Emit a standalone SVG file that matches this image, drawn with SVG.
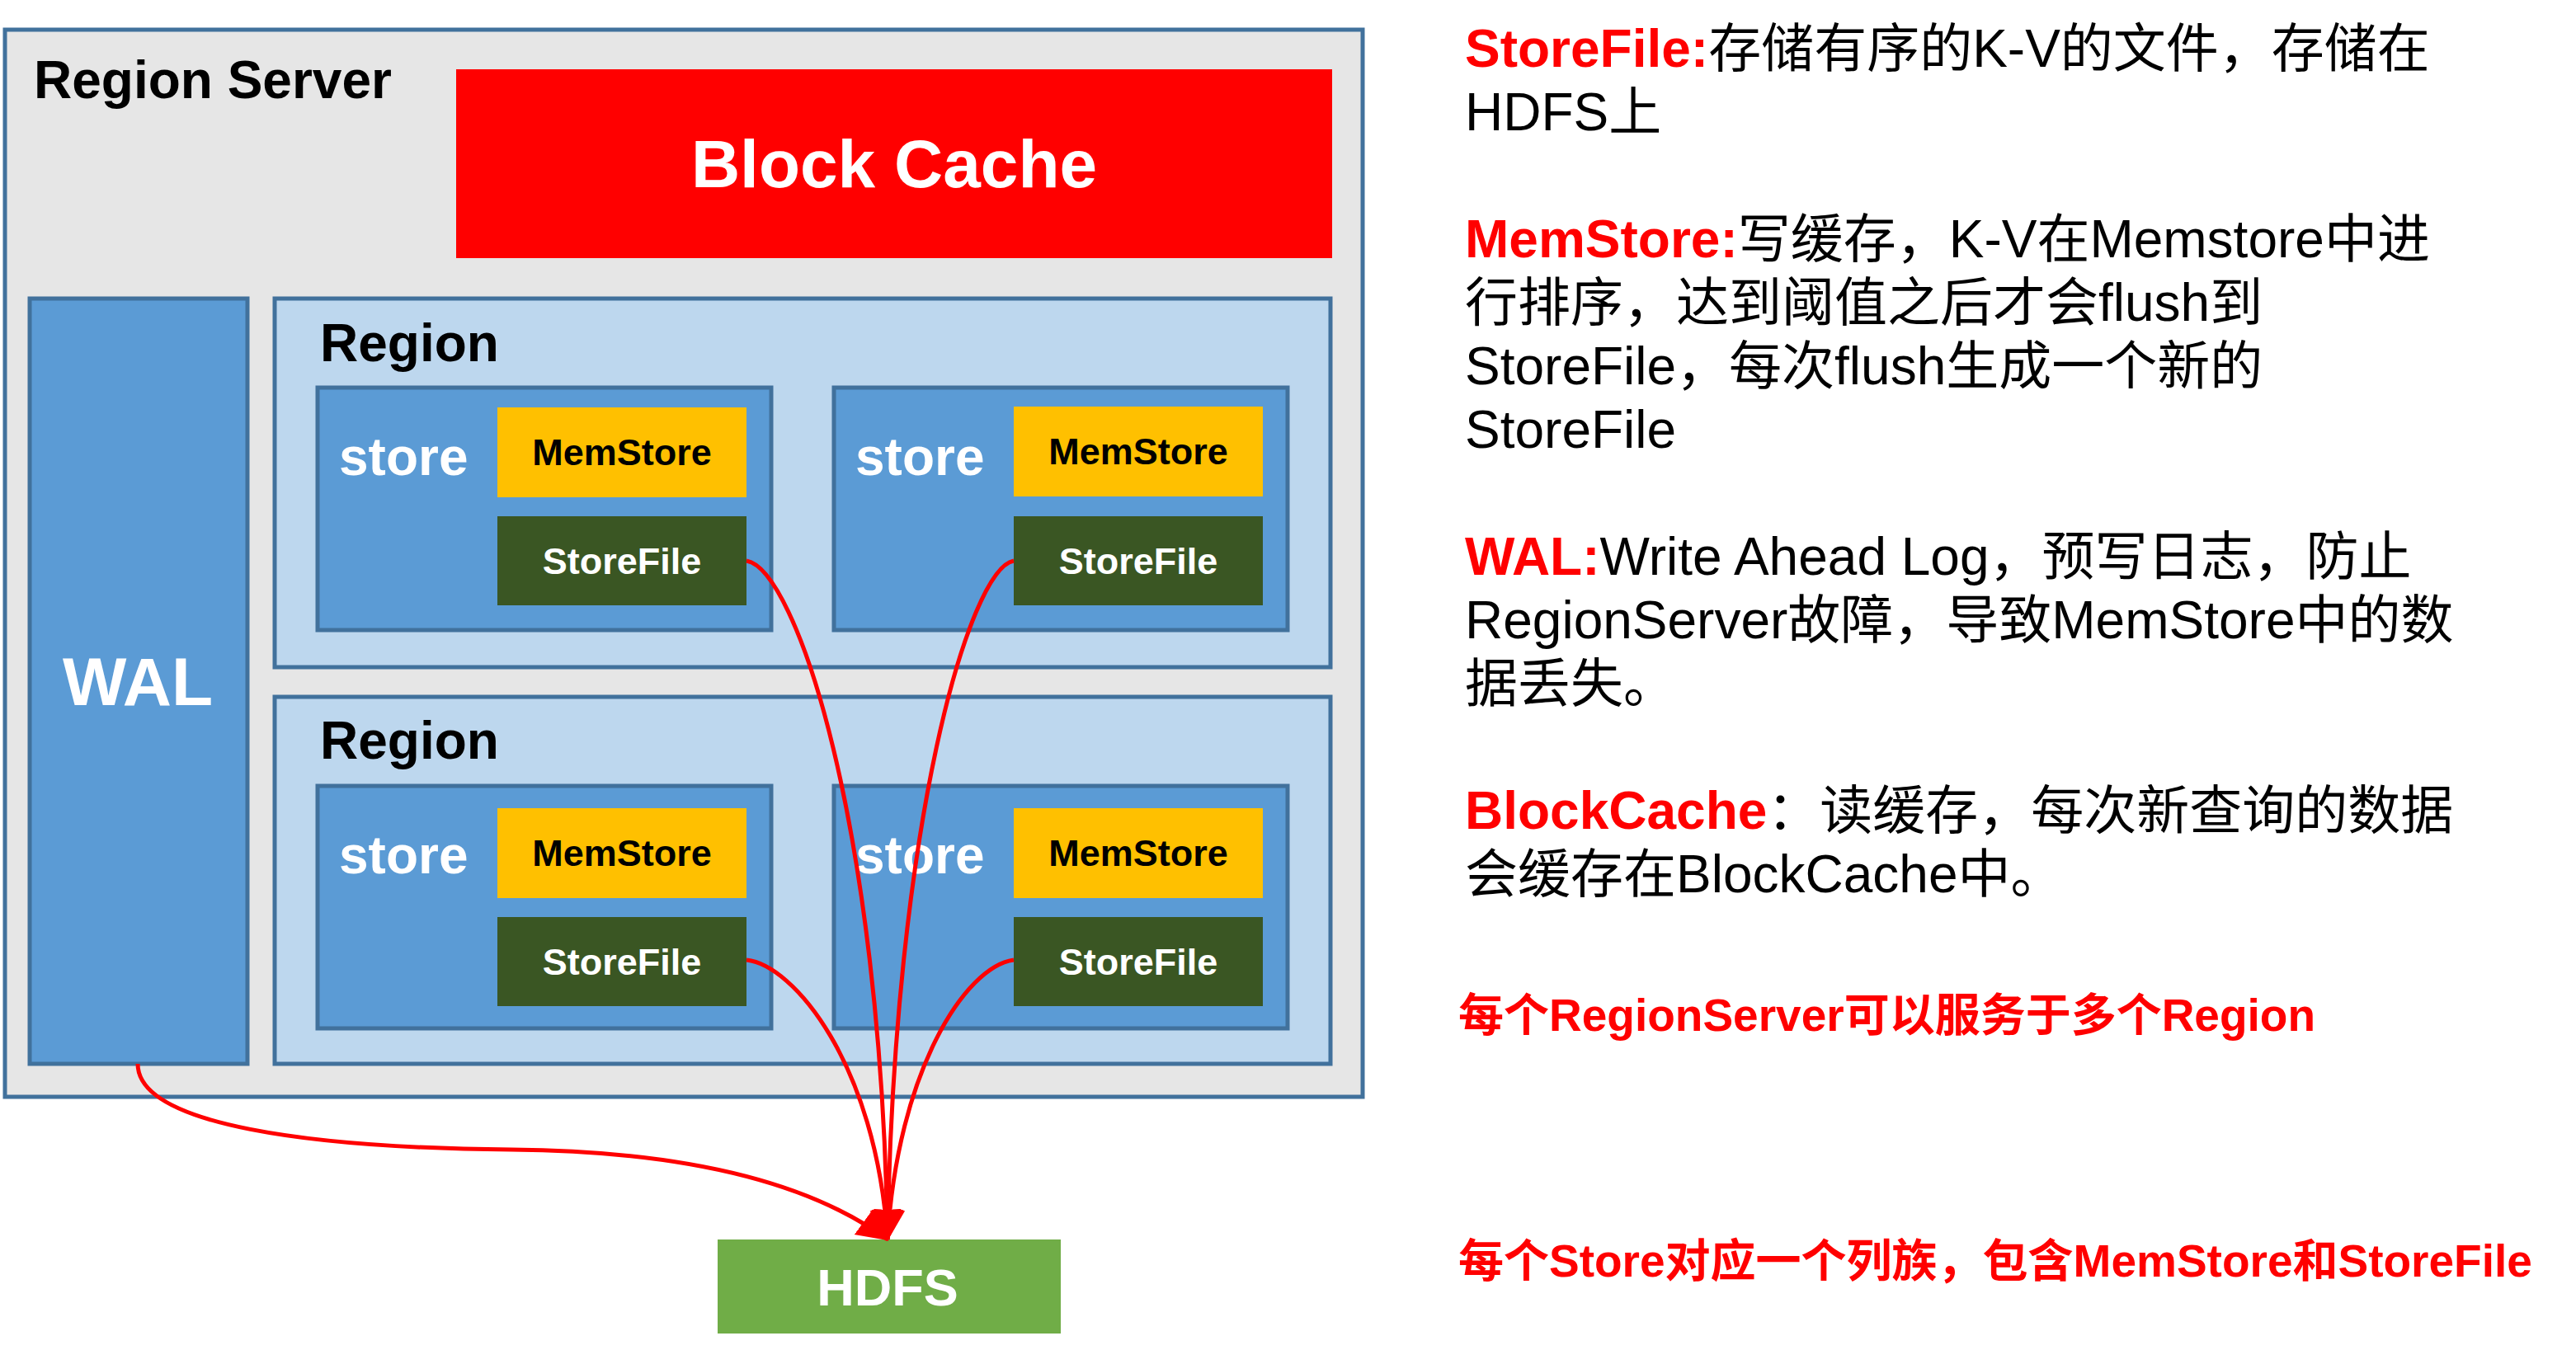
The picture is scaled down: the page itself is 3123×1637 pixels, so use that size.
<svg xmlns="http://www.w3.org/2000/svg" width="3123" height="1637" viewBox="0 0 3123 1637">
<style>
  text { font-family: "Liberation Sans", Arial, "Noto Sans CJK SC", sans-serif; }
  .box { stroke: #41719c; stroke-width: 5; }
  .server { fill: #e6e6e6; }
  .region { fill: #bdd7ee; }
  .blue { fill: #5b9bd5; }
  .mem { fill: #ffc000; }
  .sf { fill: #3a5623; }
  .lbl { font-size: 64px; font-weight: bold; }
  .sub { font-size: 45px; font-weight: bold; text-anchor: middle; }
  .desc { font-size: 64px; fill: #000; }
  .red { fill: #ff0000; font-weight: bold; }
  .note { font-size: 55px; fill: #ff0000; font-weight: bold; }
  .conn { fill: none; stroke: #ff0000; stroke-width: 5; marker-end: url(#arr); }
</style>
<defs>
  <marker id="arr" markerUnits="userSpaceOnUse" markerWidth="40" markerHeight="40" refX="36" refY="20" orient="auto">
    <path d="M0,1 L38,20 L0,39 z" fill="#ff0000"/>
  </marker>
</defs>
<rect width="3123" height="1637" fill="#ffffff"/>

<g id="region-server">
  <rect class="box server" x="6" y="36" width="1646" height="1294"/>
  <text class="lbl" x="41" y="119" fill="#000">Region Server</text>
</g>

<g id="block-cache">
  <rect x="553" y="84" width="1062" height="229" fill="#ff0000"/>
  <text x="1084" y="227" font-size="82" font-weight="bold" fill="#fff" text-anchor="middle">Block Cache</text>
</g>

<g id="wal">
  <rect class="box blue" x="36" y="362" width="264" height="928"/>
  <text x="167" y="855" font-size="82" font-weight="bold" fill="#fff" text-anchor="middle">WAL</text>
</g>

<g id="region-1">
  <rect class="box region" x="333" y="362" width="1280" height="447"/>
  <text class="lbl" x="388" y="438" fill="#000">Region</text>
</g>
<g id="store-1">
  <rect class="box blue" x="385" y="470" width="550" height="294"/>
  <text class="lbl" x="411" y="576" fill="#fff">store</text>
</g>
<g id="memstore-1">
  <rect class="mem" x="603" y="494" width="302" height="109"/>
  <text class="sub" x="754" y="564" fill="#000">MemStore</text>
</g>
<g id="storefile-1">
  <rect class="sf" x="603" y="626" width="302" height="108"/>
  <text class="sub" x="754" y="696" fill="#fff">StoreFile</text>
</g>
<g id="store-2">
  <rect class="box blue" x="1011" y="470" width="550" height="294"/>
  <text class="lbl" x="1037" y="576" fill="#fff">store</text>
</g>
<g id="memstore-2">
  <rect class="mem" x="1229" y="493" width="302" height="109"/>
  <text class="sub" x="1380" y="563" fill="#000">MemStore</text>
</g>
<g id="storefile-2">
  <rect class="sf" x="1229" y="626" width="302" height="108"/>
  <text class="sub" x="1380" y="696" fill="#fff">StoreFile</text>
</g>

<g id="region-2">
  <rect class="box region" x="333" y="845" width="1280" height="445"/>
  <text class="lbl" x="388" y="920" fill="#000">Region</text>
</g>
<g id="store-3">
  <rect class="box blue" x="385" y="953" width="550" height="294"/>
  <text class="lbl" x="411" y="1059" fill="#fff">store</text>
</g>
<g id="memstore-3">
  <rect class="mem" x="603" y="980" width="302" height="109"/>
  <text class="sub" x="754" y="1050" fill="#000">MemStore</text>
</g>
<g id="storefile-3">
  <rect class="sf" x="603" y="1112" width="302" height="108"/>
  <text class="sub" x="754" y="1182" fill="#fff">StoreFile</text>
</g>
<g id="store-4">
  <rect class="box blue" x="1011" y="953" width="550" height="294"/>
  <text class="lbl" x="1037" y="1059" fill="#fff">store</text>
</g>
<g id="memstore-4">
  <rect class="mem" x="1229" y="980" width="302" height="109"/>
  <text class="sub" x="1380" y="1050" fill="#000">MemStore</text>
</g>
<g id="storefile-4">
  <rect class="sf" x="1229" y="1112" width="302" height="108"/>
  <text class="sub" x="1380" y="1182" fill="#fff">StoreFile</text>
</g>

<g id="hdfs">
  <rect x="870" y="1503" width="416" height="114" fill="#70ad47"/>
  <text x="1076" y="1583" font-size="63" font-weight="bold" fill="#fff" text-anchor="middle">HDFS</text>
</g>

<g id="connectors">
  <path class="conn" d="M905,680 C965,690 1068,1000 1076,1503"/>
  <path class="conn" d="M1229,680 C1175,690 1084,1000 1076,1503"/>
  <path class="conn" d="M905,1164 C962,1170 1062,1290 1076,1503"/>
  <path class="conn" d="M1229,1164 C1170,1172 1088,1300 1076,1503"/>
  <path class="conn" d="M167,1290 C167,1365 380,1392 620,1394 C850,1396 990,1440 1076,1503"/>
</g>

<g id="notes">
  <text class="desc" x="1776" y="81"><tspan class="red">StoreFile:</tspan>存储有序的K-V的文件，存储在</text>
  <text class="desc" x="1776" y="158">HDFS上</text>
  <text class="desc" x="1776" y="312"><tspan class="red">MemStore:</tspan>写缓存，K-V在Memstore中进</text>
  <text class="desc" x="1776" y="389">行排序，达到阈值之后才会flush到</text>
  <text class="desc" x="1776" y="466">StoreFile，每次flush生成一个新的</text>
  <text class="desc" x="1776" y="543">StoreFile</text>
  <text class="desc" x="1776" y="697"><tspan class="red">WAL:</tspan>Write Ahead Log，预写日志，防止</text>
  <text class="desc" x="1776" y="774">RegionServer故障，导致MemStore中的数</text>
  <text class="desc" x="1776" y="851">据丢失。</text>
  <text class="desc" x="1776" y="1005"><tspan class="red">BlockCache</tspan>：读缓存，每次新查询的数据</text>
  <text class="desc" x="1776" y="1082">会缓存在BlockCache中。</text>
  <text class="note" x="1768" y="1250">每个RegionServer可以服务于多个Region</text>
  <text class="note" x="1768" y="1548">每个Store对应一个列族，包含MemStore和StoreFile</text>
</g>
</svg>
